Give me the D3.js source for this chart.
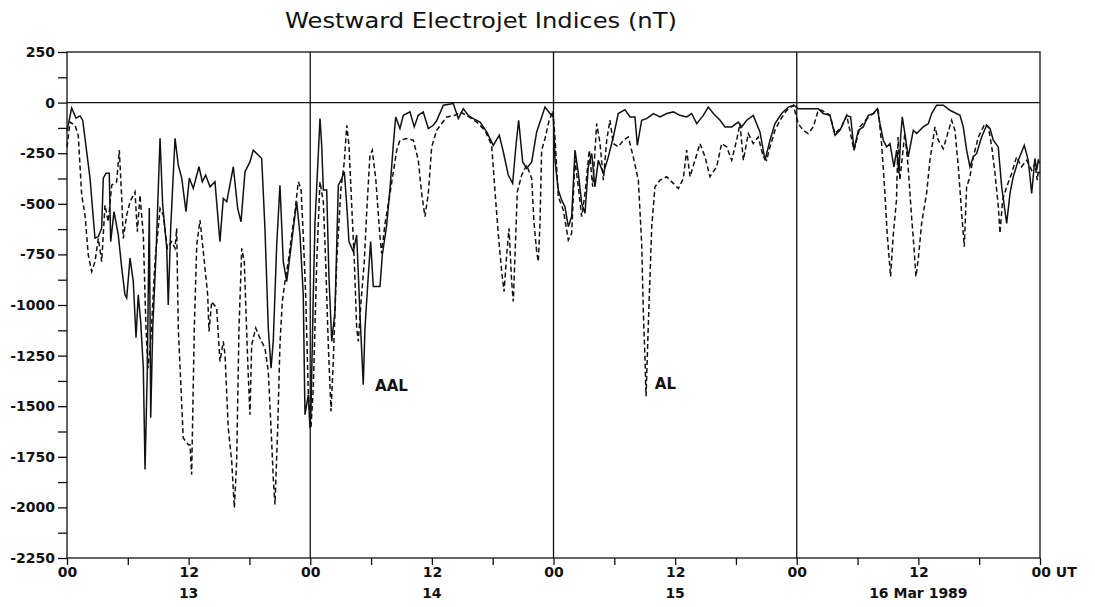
<!DOCTYPE html>
<html>
<head>
<meta charset="utf-8">
<script src="https://cdn.jsdelivr.net/npm/d3@7"></script>
<style>
  body { margin: 0; background: #fff; }
  .tick text, .lbl { font-family: "DejaVu Sans", sans-serif; font-weight: bold; font-size: 14px; fill: #111; }
</style>
</head>
<body>
<div class="chart"></div>
<script>
// hours since 00 UT 13 Mar 1989, values in nT
var aalHours = [0,0.46,0.89,1.28,1.55,2.27,2.76,3.09,3.42,3.58,3.85,4.17,4.31,4.64,5.06,5.40,5.72,5.89,6.22,6.54,
  6.81,7.03,7.27,7.53,7.70,7.92,8.12,8.26,8.46,8.78,9.18,9.44,9.84,9.99,10.23,10.66,10.98,11.32,11.74,12.07,
  12.46,13.02,13.35,13.68,14.11,14.60,15.09,15.42,15.76,16.41,16.84,17.17,17.56,18.05,18.38,19.21,19.53,19.86,20.13,20.35,
  20.69,21.01,21.34,21.68,22.17,22.66,22.99,23.31,23.48,23.81,23.97,24.07,24.30,24.47,24.79,24.96,25.13,25.29,25.62,25.85,
  26.12,26.44,26.77,27.10,27.36,27.60,27.82,28.25,28.58,28.91,29.23,29.40,29.73,29.96,30.22,30.88,31.11,31.54,31.87,32.19,
  32.43,32.85,33.18,33.84,34.26,34.66,35.15,35.65,36.14,36.47,37.13,38.11,38.61,39.10,39.59,40.09,40.75,41.41,42.06,42.65,
  43.05,43.54,43.97,44.30,44.56,44.96,45.35,45.85,46.34,47.16,47.65,47.98,48.15,48.47,48.81,49.13,49.46,49.79,50.12,50.45,
  50.78,51.11,51.43,51.77,52.09,52.42,52.92,53.41,53.90,54.39,55.05,55.55,56.04,56.27,56.70,57.19,57.85,58.51,59.17,59.82,
  60.48,61.14,61.63,62.13,62.78,63.27,63.77,64.43,64.92,65.58,66.23,66.57,67.06,67.71,68.37,68.87,69.36,69.85,70.51,71.16,
  71.73,72.15,74.12,74.61,75.28,75.77,76.26,76.93,77.32,77.65,78.07,78.56,79.06,79.55,79.95,80.21,80.54,80.87,81.20,81.59,
  81.86,82.08,82.25,82.41,82.67,83.00,83.50,83.83,84.48,84.98,85.31,85.80,86.46,87.12,88.10,88.43,88.76,89.09,89.42,89.75,
  90.24,90.74,91.06,91.39,91.88,92.22,92.71,93.04,93.36,93.86,94.45,94.84,95.18,95.50,95.67,95.83,96];
var aalValues = [-140,-27,-77,-66,-87,-373,-670,-663,-620,-373,-349,-349,-687,-539,-654,-817,-950,-965,-768,-884,
  -1162,-950,-1082,-1310,-1813,-1329,-521,-1557,-1113,-753,-176,-506,-718,-1000,-620,-176,-309,-373,-539,-373,
  -424,-317,-391,-358,-416,-391,-687,-473,-490,-317,-523,-589,-342,-293,-235,-276,-621,-1114,-1312,-1180,
  -704,-408,-786,-884,-687,-490,-654,-950,-1542,-1443,-1606,-1525,-950,-589,-260,-79,-211,-432,-432,-868,
  -1180,-1032,-408,-375,-342,-506,-687,-737,-654,-1049,-1394,-1114,-852,-687,-909,-909,-753,-605,-424,-211,
  -71,-128,-63,-46,-120,-63,-46,-128,-112,-90,-13,-5,-79,-30,-63,-79,-96,-145,-211,-161,
  -244,-358,-399,-211,-87,-293,-325,-293,-145,-22,-54,-71,-285,-432,-482,-515,-613,-564,-235,-350,
  -498,-547,-317,-251,-416,-285,-350,-268,-170,-54,-35,-71,-71,-211,-87,-79,-54,-71,-54,-46,
  -63,-71,-54,-104,-63,-22,-54,-87,-120,-120,-96,-120,-87,-63,-145,-285,-186,-104,-54,-22,
  -13,-30,-30,-54,-63,-161,-137,-63,-71,-235,-137,-120,-63,-54,-30,-104,-186,-219,-202,-317,
  -235,-350,-170,-71,-153,-268,-137,-153,-120,-104,-54,-13,-13,-38,-63,-120,-235,-317,-268,-251,
  -170,-112,-128,-186,-219,-416,-597,-449,-366,-285,-211,-285,-449,-276,-334,-285,-300];

var alHours = [0,0.30,0.79,1.11,1.45,1.78,2.10,2.44,2.76,3.09,3.42,3.75,4.07,4.41,4.90,5.16,5.40,5.55,5.89,6.22,
  6.71,6.94,7.20,7.53,7.79,7.99,8.26,8.68,9.18,9.50,9.90,10.33,10.66,10.82,10.98,11.32,11.47,11.97,12.14,12.30,
  12.56,12.80,13.12,13.45,13.88,14.01,14.28,14.77,15.09,15.42,15.59,15.91,16.25,16.51,16.74,16.97,17.24,17.49,17.83,18.05,
  18.22,18.62,19.04,19.53,19.86,20.13,20.35,20.52,20.79,21.01,21.24,21.51,21.83,22.17,22.49,22.82,23.09,23.31,23.55,23.81,
  24.07,24.30,24.64,24.96,25.29,25.52,25.78,26.05,26.27,26.61,27.03,27.36,27.60,27.82,28.09,28.35,28.58,28.74,29.01,29.33,
  29.57,29.89,30.12,30.46,30.88,31.04,31.37,31.87,32.53,32.85,33.51,34.17,34.66,34.99,35.32,35.65,35.98,36.47,37.46,38.28,
  38.77,39.43,40.42,41.24,41.90,42.23,42.56,42.89,43.12,43.38,43.61,43.87,44.03,44.30,44.43,44.86,45.35,45.85,46.07,46.34,
  46.50,46.67,46.83,47.16,47.56,47.94,48.18,48.47,48.97,49.46,49.79,50.12,50.45,50.78,51.11,51.53,51.87,52.26,52.59,52.92,
  53.25,53.57,53.90,54.39,54.89,55.38,55.87,56.37,56.70,56.86,57.03,57.13,57.35,57.69,58.01,58.51,59.17,59.82,60.32,60.81,
  61.14,61.47,61.96,62.45,62.95,63.44,64.10,64.59,65.09,65.58,66.07,66.40,66.73,67.22,67.71,68.20,68.70,69.03,69.36,69.85,
  70.35,71.01,71.66,72.15,72.64,73.13,73.63,74.12,74.46,75.28,75.77,76.43,76.93,77.65,78.24,78.90,79.55,80.04,80.37,80.70,
  80.92,81.26,81.51,81.84,82.00,82.17,82.66,82.99,83.33,83.56,83.76,83.98,84.32,84.81,85.14,85.64,85.96,86.46,86.79,87.28,
  87.61,87.94,88.27,88.53,88.76,89.09,89.42,89.92,90.57,90.90,91.24,91.56,91.89,92.05,92.31,92.71,93.20,93.69,94.18,94.68,
  95.18,95.50,95.73,95.83,96];
var alValues = [-220,-96,-112,-161,-457,-556,-753,-835,-786,-671,-786,-506,-589,-408,-391,-235,-473,-671,-556,-490,
  -441,-638,-457,-654,-1114,-1312,-1180,-786,-523,-556,-720,-687,-720,-621,-1114,-1493,-1657,-1690,-1690,-1838,
  -1114,-704,-580,-737,-950,-1131,-983,-1016,-1279,-1180,-1246,-1607,-1772,-2002,-1772,-1114,-720,-786,-1279,-1542,
  -1197,-1114,-1164,-1213,-1328,-1607,-1854,-1986,-1607,-1197,-983,-884,-786,-654,-539,-391,-424,-654,-950,-1443,
  -1607,-1410,-786,-391,-490,-786,-1197,-1526,-1279,-786,-424,-293,-112,-211,-506,-786,-1114,-1180,-983,-786,
  -539,-260,-235,-375,-663,-745,-600,-449,-235,-186,-178,-186,-285,-449,-564,-449,-219,-137,-71,-63,
  -46,-63,-96,-137,-211,-441,-654,-835,-934,-753,-621,-884,-983,-621,-441,-358,-309,-375,-589,-737,
  -786,-589,-235,-178,-90,-40,-200,-465,-531,-679,-646,-285,-416,-564,-449,-235,-416,-104,-202,-383,
  -186,-87,-202,-219,-186,-170,-268,-383,-695,-1024,-1270,-1451,-1106,-613,-416,-383,-366,-399,-424,-375,
  -235,-366,-285,-202,-268,-366,-317,-202,-219,-285,-186,-104,-285,-153,-202,-170,-268,-285,-219,-137,
  -87,-38,-13,-104,-137,-153,-120,-38,-38,-63,-153,-120,-63,-235,-120,-80,-54,-38,-202,-449,
  -646,-860,-662,-482,-170,-383,-153,-317,-564,-712,-860,-778,-597,-449,-285,-120,-186,-227,-170,-87,
  -137,-317,-547,-712,-416,-366,-268,-170,-104,-120,-219,-350,-515,-646,-482,-416,-350,-268,-317,-285,
  -334,-301,-383,-334,-350];

var yTicks = d3.range(-2250, 251, 125);
var hourTicks = d3.range(0, 97, 6);
var dayBreaks = [24, 48, 72];
var dayLabels = ["13", "14", "15", "16 Mar 1989"];
var seriesLabels = [{name: "AAL", h: 30.4, v: -1395}, {name: "AL", h: 58.0, v: -1385}];

var width = 1095;
var height = 607;
var margin = {top: 52, right: 55, bottom: 49, left: 67};

var svg = d3.select(".chart")
  .append("svg")
  .attr("width", width)
  .attr("height", height);

var x = d3.scaleLinear().domain([0, 96]).range([margin.left, width - margin.right]);
var y = d3.scaleLinear().domain([-2250, 250]).range([height - margin.bottom, margin.top]);

// title
svg.append("text")
  .attr("x", 481)
  .attr("y", 28)
  .attr("text-anchor", "middle")
  .attr("textLength", 392)
  .attr("lengthAdjust", "spacingAndGlyphs")
  .style("font-family", "'DejaVu Sans', sans-serif")
  .style("font-size", "22px")
  .style("fill", "#111")
  .text("Westward Electrojet Indices (nT)");

// frame
svg.append("rect")
  .attr("x", x(0)).attr("y", y(250))
  .attr("width", x(96) - x(0)).attr("height", y(-2250) - y(250))
  .style("fill", "none").style("stroke", "#111").style("stroke-width", 1.3);

// zero line and day separators
svg.append("line")
  .attr("x1", x(0)).attr("x2", x(96)).attr("y1", y(0)).attr("y2", y(0))
  .style("stroke", "#111").style("stroke-width", 1.3);

svg.selectAll(".daysep")
  .data(dayBreaks)
  .enter().append("line")
  .attr("class", "daysep")
  .attr("x1", function(d) { return x(d); }).attr("x2", function(d) { return x(d); })
  .attr("y1", y(250)).attr("y2", y(-2250))
  .style("stroke", "#111").style("stroke-width", 1.3);

// axes
var yAxis = d3.axisLeft(y)
  .tickValues(yTicks)
  .tickSize(9)
  .tickPadding(3)
  .tickFormat(function(d) { return d % 250 === 0 ? String(d) : ""; });

svg.append("g")
  .attr("transform", "translate(" + x(0) + ",0)")
  .call(yAxis)
  .call(function(g) { g.select(".domain").remove(); })
  .selectAll("line").style("stroke", "#111").style("stroke-width", 1.3);

var xAxis = d3.axisBottom(x)
  .tickValues(hourTicks)
  .tickSize(7)
  .tickPadding(2)
  .tickFormat(function(d) {
    if (d % 12 !== 0) return "";
    return d % 24 === 0 ? "00" : "12";
  });

var xg = svg.append("g")
  .attr("transform", "translate(0," + y(-2250) + ")")
  .call(xAxis)
  .call(function(g) { g.select(".domain").remove(); });
xg.selectAll("line").style("stroke", "#111").style("stroke-width", 1.3);
xg.selectAll(".tick text").filter(function(d) { return d === 96; })
  .attr("text-anchor", "start").attr("dx", "-9").text("00 UT");

svg.selectAll(".daylbl")
  .data(dayLabels)
  .enter().append("text")
  .attr("class", "lbl")
  .attr("x", function(d, i) { return x(i * 24 + 12); })
  .attr("y", 598)
  .attr("text-anchor", "middle")
  .text(function(d) { return d; });

// series
var line = d3.line()
  .x(function(d) { return x(d[0]); })
  .y(function(d) { return y(d[1]); });

svg.append("path")
  .datum(d3.zip(alHours, alValues))
  .attr("d", line)
  .style("fill", "none")
  .style("stroke", "#111")
  .style("stroke-width", 1.5)
  .style("stroke-dasharray", "5,3");

svg.append("path")
  .datum(d3.zip(aalHours, aalValues))
  .attr("d", line)
  .style("fill", "none")
  .style("stroke", "#111")
  .style("stroke-width", 1.5);

svg.selectAll(".serlbl")
  .data(seriesLabels)
  .enter().append("text")
  .attr("class", "lbl")
  .style("font-size", "15px")
  .attr("x", function(d) { return x(d.h); })
  .attr("y", function(d) { return y(d.v) + 6; })
  .text(function(d) { return d.name; });
</script>
</body>
</html>
